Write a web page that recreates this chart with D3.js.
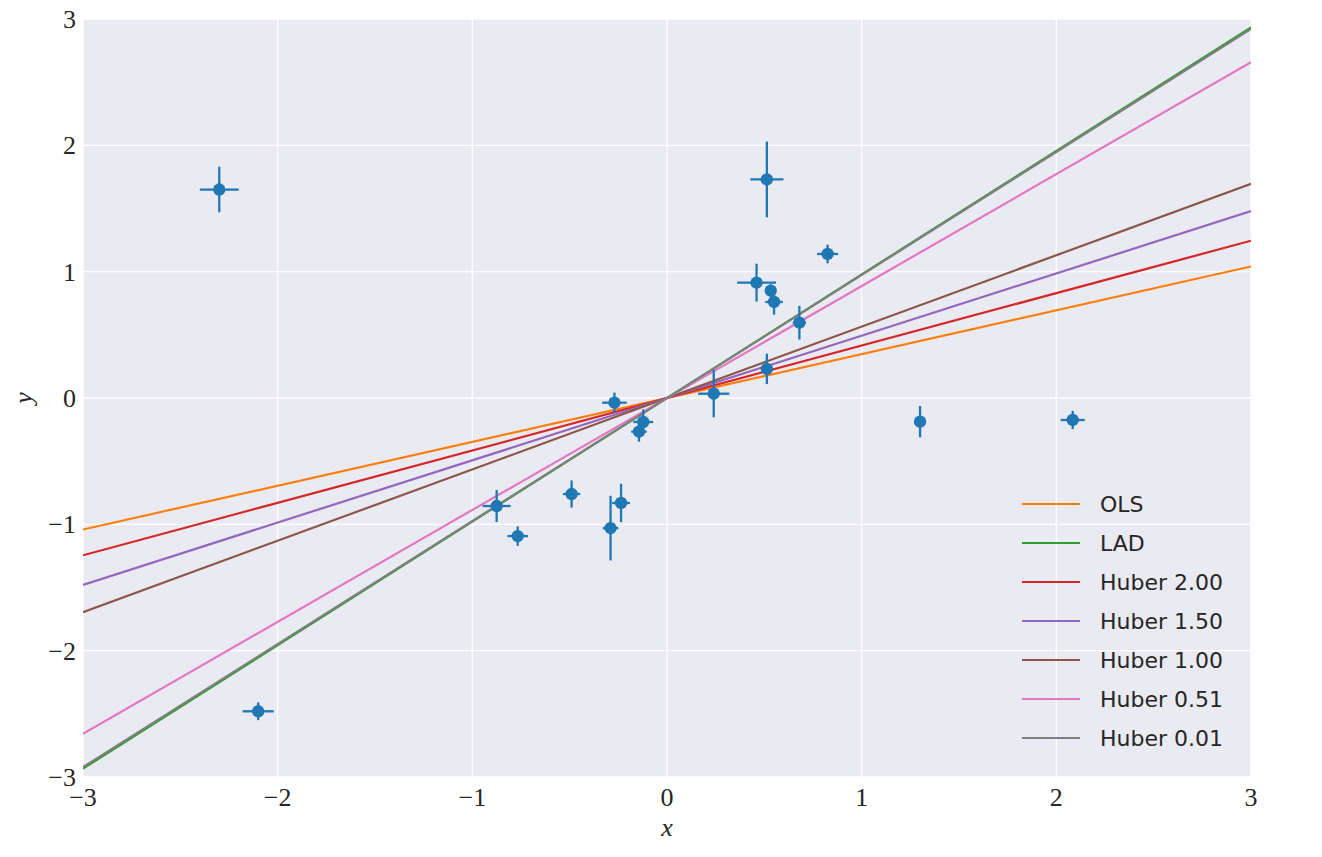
<!DOCTYPE html>
<html><head><meta charset="utf-8">
<script src="https://cdn.jsdelivr.net/npm/d3@7"></script>
<style>body{margin:0;background:#fff;} svg{display:block;}</style>
</head><body>
<svg id="c" width="1322" height="857"></svg>
<script>
const xs   = [-2.30,-2.10,-0.875,-0.767,-0.49,-0.29,-0.236,-0.27,-0.122,-0.144,0.24,0.513,0.46,0.533,0.55,0.68,0.825,0.513,1.30,2.084];
const ys   = [1.65,-2.48,-0.855,-1.093,-0.76,-1.03,-0.831,-0.037,-0.19,-0.266,0.034,0.23,0.913,0.85,0.76,0.596,1.14,1.73,-0.187,-0.174];
const xerr = [0.10,0.08,0.072,0.053,0.044,0.04,0.046,0.063,0.051,0.04,0.08,0.015,0.10,0.02,0.045,0.034,0.054,0.085,0.015,0.062];
const yerr = [0.18,0.07,0.127,0.077,0.107,0.256,0.152,0.08,0.10,0.08,0.187,0.12,0.15,0.05,0.10,0.133,0.074,0.30,0.124,0.072];
const fitNames  = ["OLS","LAD","Huber 2.00","Huber 1.50","Huber 1.00","Huber 0.51","Huber 0.01"];
const fitSlopes = [0.347,0.978,0.415,0.493,0.565,0.886,0.974];
const fitInter  = [0,0,0,0,0,0,0];
const fitColors = ["#ff7f0e","#2ca02c","#d62728","#9467bd","#8c564b","#e377c2","#7f7f7f"];
const xTicks = [-3,-2,-1,0,1,2,3];
const yTicks = [-3,-2,-1,0,1,2,3];

const svg = d3.select("#c");
const L=83,R=1251,T=19,B=777;
const x = d3.scaleLinear().domain([-3,3]).range([L,R]);
const y = d3.scaleLinear().domain([-3,3]).range([B,T]);
const fmt = v => (v<0?"\u2212":"")+Math.abs(v);

svg.append("rect").attr("x",L).attr("y",T).attr("width",R-L).attr("height",B-T).attr("fill","#eaeaf2");
const defs=svg.append("defs");
defs.append("clipPath").attr("id","clip").append("rect").attr("x",L).attr("y",T).attr("width",R-L).attr("height",B-T);

const g = svg.append("g");
g.selectAll(".gx").data(xTicks).join("line").attr("x1",d=>x(d)).attr("x2",d=>x(d)).attr("y1",T).attr("y2",B).attr("stroke","#fff").attr("stroke-width",1.3);
g.selectAll(".gy").data(yTicks).join("line").attr("y1",d=>y(d)).attr("y2",d=>y(d)).attr("x1",L).attr("x2",R).attr("stroke","#fff").attr("stroke-width",1.3);

const tickFont = "'Liberation Serif','DejaVu Serif',serif";
svg.selectAll(".tx").data(xTicks).join("text").attr("x",d=>x(d)).attr("y",806).attr("text-anchor","middle")
  .attr("font-family",tickFont).attr("font-size",26).attr("fill","#262626").text(fmt);
svg.selectAll(".ty").data(yTicks).join("text").attr("x",76).attr("y",d=>y(d)+9).attr("text-anchor","end")
  .attr("font-family",tickFont).attr("font-size",26).attr("fill","#262626").text(fmt);
svg.append("text").attr("x",(L+R)/2).attr("y",836).attr("text-anchor","middle").attr("font-family",tickFont)
  .attr("font-style","italic").attr("font-size",26).attr("fill","#262626").text("x");
svg.append("text").attr("transform",`translate(32,${(T+B)/2}) rotate(-90)`).attr("text-anchor","middle").attr("font-family",tickFont)
  .attr("font-style","italic").attr("font-size",26).attr("fill","#262626").text("y");

const fits = fitNames.map((n,i)=>({name:n,m:fitSlopes[i],b:fitInter[i],c:fitColors[i]}));
const lg = svg.append("g").attr("clip-path","url(#clip)");
const line = d3.line().x(d=>x(d[0])).y(d=>y(d[1]));
lg.selectAll("path").data(fits).join("path").attr("d",f=>line([-3,3].map(v=>[v,f.m*v+f.b]))).attr("stroke",d=>d.c).attr("stroke-width",2.2).attr("fill","none");

const pts = xs.map((v,i)=>({x:v,y:ys[i],ex:xerr[i],ey:yerr[i]}));
const eb = svg.append("g").attr("clip-path","url(#clip)");
const col="#1f77b4";
eb.selectAll(".ex").data(pts).join("line").attr("x1",d=>x(d.x-d.ex)).attr("x2",d=>x(d.x+d.ex)).attr("y1",d=>y(d.y)).attr("y2",d=>y(d.y)).attr("stroke",col).attr("stroke-width",2.3);
eb.selectAll(".ey").data(pts).join("line").attr("x1",d=>x(d.x)).attr("x2",d=>x(d.x)).attr("y1",d=>y(d.y-d.ey)).attr("y2",d=>y(d.y+d.ey)).attr("stroke",col).attr("stroke-width",2.3);
eb.selectAll("circle").data(pts).join("circle").attr("cx",d=>x(d.x)).attr("cy",d=>y(d.y)).attr("r",6.2).attr("fill",col);

const leg = svg.append("g");
fits.forEach((f,i)=>{
  const yy = 504 + i*39;
  leg.append("line").attr("x1",1022).attr("x2",1080).attr("y1",yy).attr("y2",yy).attr("stroke",f.c).attr("stroke-width",2.2);
  leg.append("text").attr("x",1100).attr("y",yy+8).attr("font-family","'DejaVu Sans',sans-serif").attr("font-size",22).attr("fill","#262626").text(f.name);
});
</script>
</body></html>
